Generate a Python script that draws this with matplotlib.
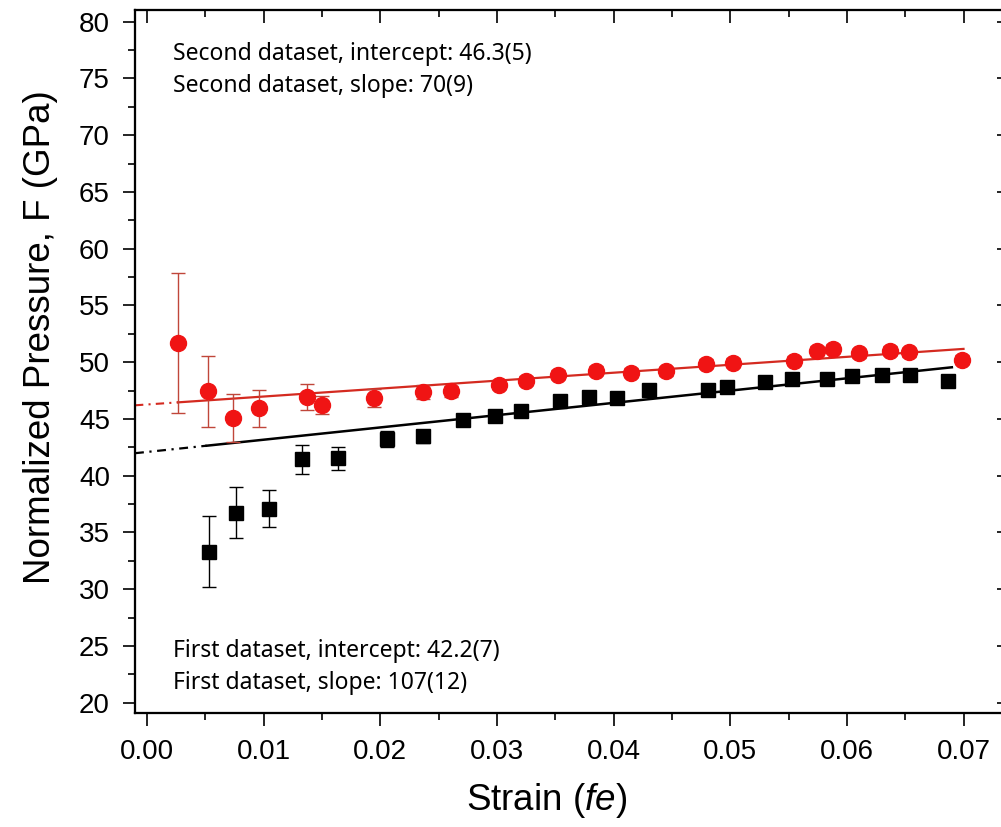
import matplotlib
matplotlib.use("Agg")
from matplotlib import pyplot as plt
from matplotlib.ticker import MultipleLocator, FormatStrFormatter

plt.rcParams['font.family'] = ['Liberation Sans', 'DejaVu Sans']
plt.rcParams['mathtext.fontset'] = 'custom'
plt.rcParams['mathtext.rm'] = 'Liberation Sans'
plt.rcParams['mathtext.it'] = 'Liberation Sans:italic'

# second dataset (red circles)
red_x = [0.00266, 0.0052, 0.00737, 0.0096, 0.01368, 0.01497, 0.01948, 0.02368, 0.0261,
         0.0302, 0.03245, 0.0352, 0.0385, 0.0415, 0.0445, 0.0479, 0.0502, 0.0555,
         0.0574, 0.0588, 0.0610, 0.0637, 0.0653, 0.0699]
red_y = [51.7, 47.43, 45.11, 45.93, 46.90, 46.26, 46.81, 47.38, 47.43,
         48.0, 48.38, 48.91, 49.26, 49.06, 49.20, 49.85, 49.96, 50.14,
         51.02, 51.17, 50.79, 51.02, 50.87, 50.20]
red_err = [6.2, 3.1, 2.1, 1.65, 1.15, 0.8, 0.8, 0.6, 0.5,
           0.4, 0.4, 0.4, 0.4, 0.4, 0.4, 0.4, 0.4, 0.4,
           0.4, 0.4, 0.4, 0.4, 0.4, 0.4]

# first dataset (black squares)
blk_x = [0.00531, 0.00763, 0.01043, 0.01331, 0.01639, 0.0206, 0.02368, 0.0271,
         0.0298, 0.0321, 0.0354, 0.0379, 0.0403, 0.0430, 0.0481, 0.0497,
         0.0530, 0.0553, 0.0583, 0.0604, 0.0630, 0.0654, 0.0687]
blk_y = [33.31, 36.75, 37.1, 41.43, 41.52, 43.23, 43.46, 44.91,
         45.29, 45.67, 46.61, 46.96, 46.81, 47.55, 47.55, 47.85,
         48.23, 48.53, 48.53, 48.76, 48.91, 48.88, 48.38]
blk_err = [3.15, 2.26, 1.62, 1.3, 1.0, 0.73, 0.6, 0.45,
           0.4, 0.4, 0.4, 0.4, 0.4, 0.4, 0.4, 0.4,
           0.4, 0.4, 0.4, 0.4, 0.4, 0.4, 0.4]

# linear fits: solid over the data, dash-dot extrapolated to zero
red_fit_x = [0.00266, 0.0700]
red_fit_y = [46.46, 51.17]
red_ext_x = [-0.00103, 0.00266]
red_ext_y = [46.20, 46.46]
blk_fit_x = [0.00511, 0.0690]
blk_fit_y = [42.64, 49.55]
blk_ext_x = [-0.00103, 0.00511]
blk_ext_y = [41.98, 42.64]

notes = ["Second dataset, intercept: 46.3(5)", "Second dataset, slope: 70(9)",
         "First dataset, intercept: 42.2(7)", "First dataset, slope: 107(12)"]

fig = plt.figure(figsize=(10.01, 8.27), dpi=100)
ax = fig.add_axes([135/1001, (827-713)/827, (1009-135)/1001, (713-10)/827])

dashdot = (0, (4, 2.5, 1, 2.5))
ax.plot(red_ext_x, red_ext_y, color="#d42a20", lw=1.5, ls=dashdot)
ax.plot(blk_ext_x, blk_ext_y, color="black", lw=1.6, ls=dashdot)
ax.plot(red_fit_x, red_fit_y, color="#d42a20", lw=1.6)
ax.plot(blk_fit_x, blk_fit_y, color="black", lw=1.8)

ax.errorbar(red_x, red_y, yerr=red_err, fmt="o", color="#f01414", ms=11.5,
            ecolor="#c0463a", elinewidth=1.0, capsize=5, capthick=1.0, zorder=3)
ax.errorbar(blk_x, blk_y, yerr=blk_err, fmt="s", color="black", ms=9.5,
            ecolor="black", elinewidth=1.0, capsize=5, capthick=1.0, zorder=3)

ax.set_xlim(-0.00103, 0.0739)
ax.set_ylim(19.09, 81.03)
ax.xaxis.set_major_locator(MultipleLocator(0.01))
ax.xaxis.set_minor_locator(MultipleLocator(0.005))
ax.yaxis.set_major_locator(MultipleLocator(5))
ax.yaxis.set_minor_locator(MultipleLocator(2.5))
ax.xaxis.set_major_formatter(FormatStrFormatter("%.2f"))

ax.tick_params(which="both", width=1.2, labelsize=20)
ax.tick_params(axis="x", which="both", direction="out", bottom=True, top=False, pad=10)
ax.tick_params(axis="y", which="both", direction="out", left=True, right=False, pad=9)
ax.tick_params(which="major", length=9)
ax.tick_params(which="minor", length=5)
for side in ax.spines.values():
    side.set_linewidth(1.5)

# inward ticks on top and right
top = ax.twiny()
top.set_xlim(ax.get_xlim())
top.xaxis.set_major_locator(MultipleLocator(0.01))
top.xaxis.set_minor_locator(MultipleLocator(0.005))
top.tick_params(axis="x", which="both", direction="in", labeltop=False, width=1.2)
top.tick_params(which="major", length=9)
top.tick_params(which="minor", length=5)
right = ax.twinx()
right.set_ylim(ax.get_ylim())
right.yaxis.set_major_locator(MultipleLocator(5))
right.yaxis.set_minor_locator(MultipleLocator(2.5))
right.tick_params(axis="y", which="both", direction="in", labelright=False, width=1.2)
right.tick_params(which="major", length=9)
right.tick_params(which="minor", length=5)
for a in (top, right):
    for side in a.spines.values():
        side.set_linewidth(1.5)
# the right frame line sits just past the picture's edge
for a in (ax, top, right):
    a.spines["right"].set_visible(False)

ax.set_xlabel(r"Strain ($\it{fe}$)", fontsize=26.5)
ax.set_ylabel("Normalized Pressure, F (GPa)", fontsize=26.5)
ax.xaxis.set_label_coords(0.471, -0.097)
ax.yaxis.set_label_coords(-0.088, 0.535)

note_font = ["Noto Sans", "DejaVu Sans"]
note_y = [54, 86, 651, 683]
for txt, py in zip(notes, note_y):
    fig.text(173/1001, 1-py/827, txt, fontsize=16.5, family=note_font, va="center")

fig.savefig("out.png", dpi=100)
